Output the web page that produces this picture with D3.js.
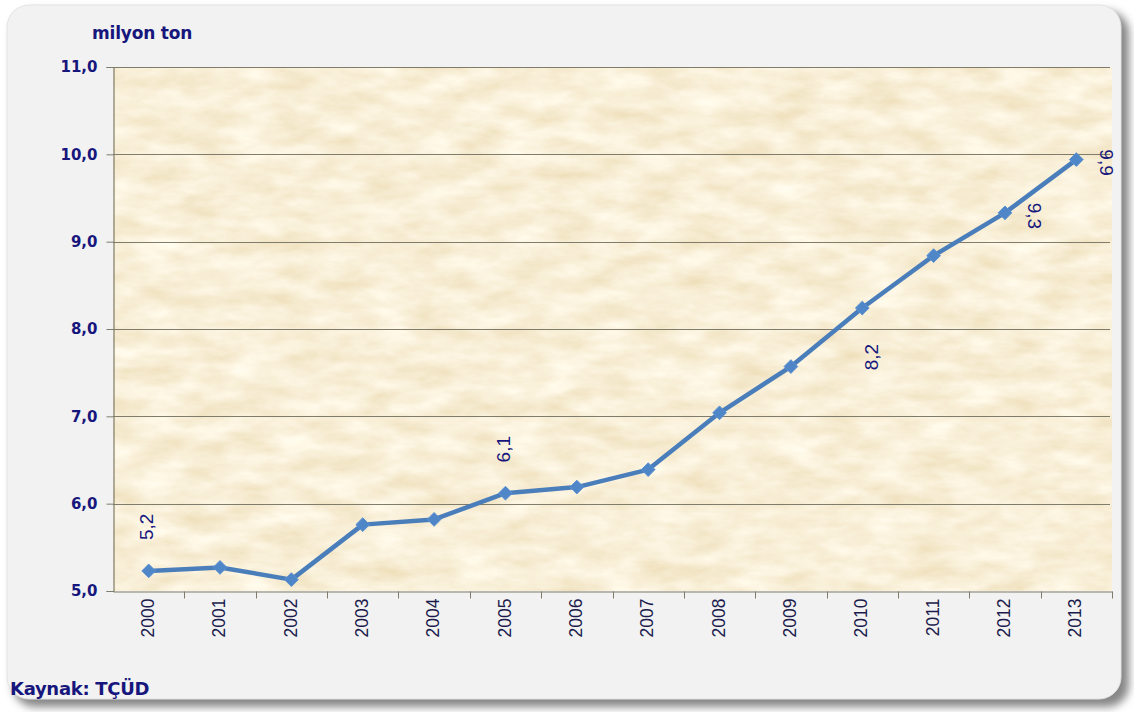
<!DOCTYPE html>
<html>
<head>
<meta charset="utf-8">
<script src="https://cdn.jsdelivr.net/npm/d3@7"></script>
<style>
  html, body { margin: 0; padding: 0; background: #ffffff; }
  svg { display: block; font-family: "Liberation Sans", Arial, sans-serif; }
</style>
</head>
<body>
<svg id="chart" width="1134" height="712"></svg>
<script>
// Annual production, million tonnes
const years = ["2000","2001","2002","2003","2004","2005","2006","2007","2008","2009","2010","2011","2012","2013"];
const production = [5.23, 5.27, 5.13, 5.76, 5.82, 6.12, 6.19, 6.39, 7.04, 7.57, 8.24, 8.84, 9.33, 9.94];
// Years whose value is printed next to the point, and on which side
const labelledYears = ["2000", "2005", "2010", "2012", "2013"];
const labelSide = ["above", "above", "below", "right", "right"];
const yTicks = [5, 6, 7, 8, 9, 10, 11];
const unitLabel = "milyon ton";
const sourceLabel = "Kaynak: TÇÜD";

const svg = d3.select("#chart");
const plot = { left: 113, right: 1112, top: 67, bottom: 591 };
const navy = "#16167c";
const lineBlue = "#4a7ebb";
const axisGrey = "#7f7c6c";
const boldFont = "'DejaVu Sans', Verdana, sans-serif";

const defs = svg.append("defs");

// soft drop shadow for the frame
const shadow = defs.append("filter").attr("id", "frameShadow")
  .attr("x", "-5%").attr("y", "-5%").attr("width", "110%").attr("height", "110%");
shadow.append("feGaussianBlur").attr("stdDeviation", 4);

// mottled parchment texture for the plot area
const tex = defs.append("filter").attr("id", "parchment")
  .attr("x", 0).attr("y", 0).attr("width", "100%").attr("height", "100%");
tex.append("feTurbulence")
  .attr("type", "fractalNoise").attr("baseFrequency", "0.022 0.055")
  .attr("numOctaves", 5).attr("seed", 7).attr("result", "noise");
tex.append("feColorMatrix").attr("in", "noise").attr("type", "matrix")
  .attr("values", [
    0.20, 0, 0, 0, 0.845,
    0.30, 0, 0, 0, 0.715,
    0.46, 0, 0, 0, 0.455,
    0, 0, 0, 0, 1
  ].join(" "));

// frame with shadow
svg.append("rect")
  .attr("x", 13).attr("y", 11).attr("width", 1116).attr("height", 696)
  .attr("rx", 22).attr("fill", "#868686").attr("filter", "url(#frameShadow)");
svg.append("rect")
  .attr("x", 7).attr("y", 5).attr("width", 1114).attr("height", 694)
  .attr("rx", 22).attr("fill", "#f2f2f2").attr("stroke", "#e4e4e4");

// scales
const x = d3.scaleBand().domain(years).range([plot.left, plot.right]);
const y = d3.scaleLinear().domain([5, 11]).range([plot.bottom, plot.top]);

// plot area texture
svg.append("rect")
  .attr("x", plot.left).attr("y", plot.top)
  .attr("width", plot.right - plot.left).attr("height", plot.bottom - plot.top)
  .attr("filter", "url(#parchment)");

// horizontal gridlines
svg.append("g").selectAll("line").data(yTicks.filter(d => d > 5)).join("line")
  .attr("x1", plot.left).attr("x2", plot.right - 2)
  .attr("y1", d => Math.round(y(d)) + 0.5).attr("y2", d => Math.round(y(d)) + 0.5)
  .attr("stroke", axisGrey).attr("stroke-width", 1.2);

// y axis
const yAxis = svg.append("g")
  .attr("transform", `translate(${plot.left + 0.5},0)`)
  .call(d3.axisLeft(y).tickValues(yTicks).tickSize(7).tickPadding(9)
    .tickFormat(d => d3.format(".1f")(d).replace(".", ",")));
yAxis.select(".domain").attr("stroke", axisGrey).attr("stroke-width", 1.2);
yAxis.selectAll(".tick line").attr("stroke", axisGrey);
yAxis.selectAll(".tick text")
  .attr("fill", navy).attr("font-size", 15).attr("font-weight", "bold")
  .attr("font-family", boldFont);

// x axis: ticks between categories, rotated year labels
const xAxis = svg.append("g")
  .attr("transform", `translate(0,${plot.bottom + 0.5})`)
  .call(d3.axisBottom(x).tickSize(0).tickSizeOuter(0).tickPadding(0));
xAxis.select(".domain").attr("stroke", axisGrey).attr("stroke-width", 1.2);
xAxis.selectAll(".tick text")
  .attr("transform", "rotate(-90)")
  .attr("x", -7).attr("y", -1).attr("dy", "0.35em")
  .attr("text-anchor", "end")
  .attr("fill", "#1c1c4c").attr("font-size", 17.5)
  .attr("font-family", "'Liberation Sans', Arial, sans-serif");
xAxis.append("g").selectAll("line").data(years.slice(1).concat(["end"])).join("line")
  .attr("x1", (d, i) => Math.round(plot.left + x.step() * (i + 1)) + 0.5)
  .attr("x2", (d, i) => Math.round(plot.left + x.step() * (i + 1)) + 0.5)
  .attr("y1", 0).attr("y2", 7)
  .attr("stroke", axisGrey);

// series line
const pts = years.map((yr, i) => ({ year: yr, value: production[i] }));
const cx = d => x(d.year) + x.bandwidth() / 2;
svg.append("path")
  .datum(pts)
  .attr("fill", "none").attr("stroke", lineBlue).attr("stroke-width", 4.5)
  .attr("stroke-linejoin", "round")
  .attr("d", d3.line().x(cx).y(d => y(d.value)));

// diamond markers
svg.append("g").selectAll("path").data(pts).join("path")
  .attr("transform", d => `translate(${cx(d)},${y(d.value)})`)
  .attr("d", d3.symbol().type(d3.symbolDiamond2).size(120))
  .attr("fill", "#4f86c8").attr("stroke", "#5b90d2").attr("stroke-width", 1);

// value labels
const fmt = v => d3.format(".1f")(v).replace(".", ",");
const offsets = {
  above: { dx: -2, dy: -44, rot: -90 },
  below: { dx: 9, dy: 49, rot: -90 },
  right: { dx: 30, dy: 3, rot: 90 }
};
svg.append("g").selectAll("text").data(labelledYears).join("text")
  .each(function (yr, i) {
    const d = pts.find(p => p.year === yr);
    const o = offsets[labelSide[i]];
    d3.select(this)
      .attr("transform", `translate(${cx(d) + o.dx},${y(d.value) + o.dy}) rotate(${o.rot})`)
      .attr("text-anchor", "middle").attr("dy", "0.35em")
      .attr("fill", navy).attr("font-size", 19)
      .text(fmt(d.value));
  });

// unit and source
svg.append("text").attr("x", 92).attr("y", 39)
  .attr("fill", navy).attr("font-size", 17).attr("font-weight", "bold")
  .attr("font-family", boldFont).attr("letter-spacing", "-0.2").text(unitLabel);
svg.append("text").attr("x", 10).attr("y", 695)
  .attr("fill", navy).attr("font-size", 18).attr("font-weight", "bold")
  .attr("font-family", boldFont).attr("letter-spacing", "-0.3").text(sourceLabel);
</script>
</body>
</html>
